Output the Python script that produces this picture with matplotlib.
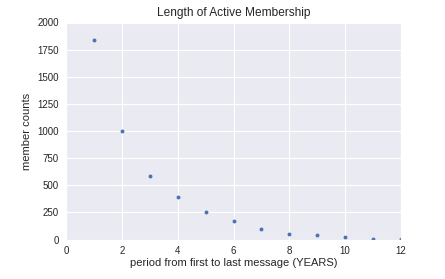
import matplotlib
matplotlib.use("Agg")
import matplotlib.pyplot as plt
import seaborn as sns

years = [1, 2, 3, 4, 5, 6, 7, 8, 9, 10, 11, 12]
counts = [1838, 998, 583, 391, 250, 167, 93, 47, 38, 19, 4, 2]
xticks = [0, 2, 4, 6, 8, 10, 12]
yticks = [0, 250, 500, 750, 1000, 1250, 1500, 1750, 2000]

sns.set_style("darkgrid")
plt.rcParams['font.family'] = ['Liberation Sans', 'DejaVu Sans']

fig = plt.figure(figsize=(4.45, 2.79), dpi=100)
ax = fig.add_axes([66/445, 1 - 239.5/279, (401-66)/445, (239.5-22.5)/279])
ax.plot(years, counts, linestyle='none', marker='o', markersize=2.8,
        color='#4C72B0', markeredgewidth=0)
ax.set_xlim(0, 12)
ax.set_ylim(0, 2000)
ax.set_xticks(xticks)
ax.set_yticks(yticks)
ax.tick_params(labelsize=7, length=0, pad=5, colors='#262626')
ax.set_xlabel('period from first to last message (YEARS)', fontsize=8, color='#262626', labelpad=1)
ax.set_ylabel('member counts', fontsize=8, color='#262626', labelpad=4)
ax.set_title('Length of Active Membership', fontsize=8.6, color='#262626', pad=5)
fig.savefig('out.png', dpi=100)
